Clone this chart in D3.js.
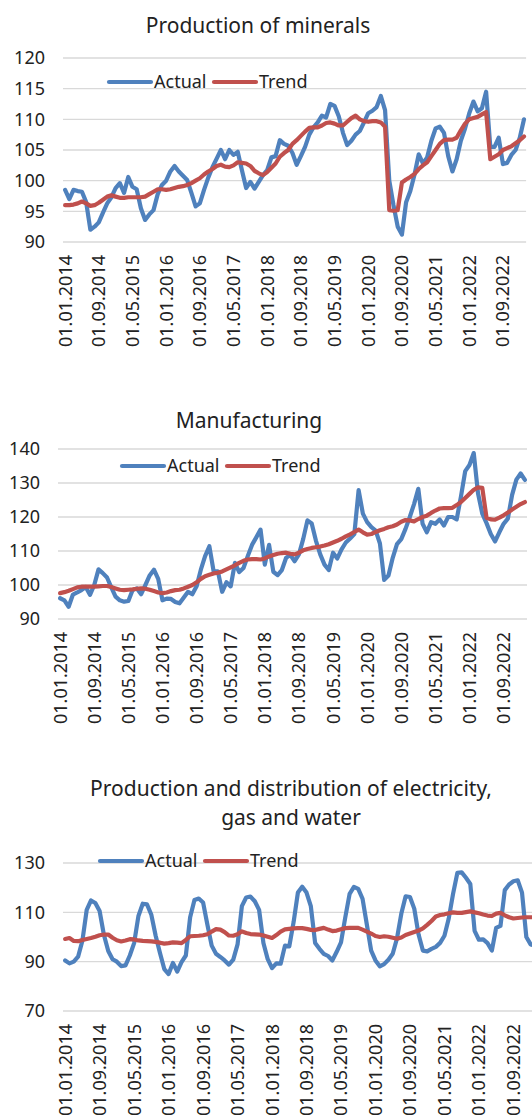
<!DOCTYPE html>
<html>
<head>
  <meta charset="UTF-8">
  <title>Production indices</title>
  <script src="https://cdn.jsdelivr.net/npm/d3@7"></script>
  <style>
    body { margin: 0; background: #fff; }
    svg text { font-family: "Noto Sans", sans-serif; fill: #222; }
  </style>
</head>
<body>
<svg id="chart" width="532" height="1115"></svg>
<script>
// monthly categories, Jan 2014 .. Feb 2023
var months = d3.timeMonth.range(new Date(2014, 0, 1), new Date(2023, 2, 1));
var seriesNames = ["Actual", "Trend"];

// Production of minerals
var minActual = [98.5,97.0,98.5,98.3,98.2,96.5,92.0,92.5,93.2,94.8,
  96.3,97.3,98.8,99.6,98.0,100.6,99.0,98.6,95.5,93.6,
  94.5,95.2,97.8,99.3,100.0,101.5,102.4,101.5,100.8,100.1,
  98.0,95.8,96.3,98.5,100.5,102.2,103.6,105.0,103.5,105.0,
  104.2,104.7,101.7,98.8,99.8,98.7,99.8,100.9,101.7,103.8,
  104.0,106.6,106.0,105.7,104.5,102.6,104.0,105.5,107.5,108.7,
  109.5,110.6,110.3,112.5,112.2,110.5,107.8,105.8,106.5,107.5,
  108.1,109.5,111.0,111.4,112.0,113.8,111.5,100.0,96.0,92.5,
  91.2,96.5,98.3,101.0,104.3,102.8,103.8,106.5,108.5,108.8,
  107.8,104.0,101.5,103.5,106.5,108.5,111.0,112.9,111.3,111.8,
  114.5,105.5,105.5,107.0,102.7,102.9,104.2,105.0,107.0,110.0];
var minTrend = [96.0,96.0,96.1,96.3,96.6,96.3,95.9,96.0,96.4,96.9,
  97.4,97.6,97.4,97.2,97.2,97.3,97.3,97.3,97.3,97.4,
  97.8,98.2,98.6,98.6,98.5,98.6,98.8,99.0,99.1,99.3,
  99.6,100.0,100.4,101.0,101.5,101.9,102.4,102.6,102.3,102.2,
  102.5,103.0,102.9,102.8,102.4,101.6,101.2,100.9,101.4,102.1,
  102.8,103.9,104.5,105.0,106.0,106.6,107.3,108.0,108.6,108.7,
  108.7,109.0,109.4,109.5,109.3,109.0,109.0,109.6,110.2,110.6,
  110.0,109.7,109.6,109.7,109.7,109.5,108.8,95.2,95.1,95.2,
  99.7,100.2,100.6,101.1,101.9,102.5,103.0,104.0,105.0,106.0,
  106.6,106.7,106.7,107.0,108.2,109.3,110.0,110.2,110.4,110.8,
  111.2,103.5,103.9,104.3,105.0,105.3,105.6,106.1,106.6,107.2];

// Manufacturing
var manActual = [96.1,95.5,93.6,97.2,97.8,98.5,99.4,97.1,100.0,104.6,
  103.5,102.2,99.3,96.6,95.5,95.1,95.3,98.5,99.0,97.3,
  100.0,102.8,104.5,101.8,95.5,96.0,95.9,95.0,94.6,96.3,
  98.0,97.3,99.6,104.5,108.5,111.4,104.0,104.0,98.0,100.8,
  99.6,106.5,103.8,105.0,108.5,111.8,114.0,116.3,106.0,111.8,
  103.9,102.9,104.4,108.0,108.8,107.0,109.0,113.5,119.0,118.1,
  113.0,109.0,106.0,104.4,109.5,107.8,110.5,112.5,113.7,115.0,
  127.9,121.0,118.5,117.0,116.0,112.2,101.5,102.8,108.0,112.0,
  113.5,116.5,120.0,123.8,128.3,118.0,115.5,118.5,118.0,119.3,
  117.5,120.0,120.0,119.3,126.0,133.5,135.3,138.8,127.0,121.0,
  118.2,115.0,112.8,115.5,118.0,119.5,126.5,131.0,132.8,130.9];
var manTrend = [97.6,97.9,98.3,98.8,99.3,99.5,99.5,99.5,99.5,99.6,
  99.7,99.7,99.4,99.0,98.6,98.5,98.6,98.7,98.9,99.0,
  98.9,98.6,98.2,97.8,97.6,97.8,98.2,98.5,98.6,99.0,
  99.5,100.0,100.8,101.8,102.6,103.0,103.4,103.6,104.0,104.6,
  105.2,105.8,106.5,107.1,107.5,107.6,107.6,107.5,107.8,108.4,
  108.8,109.2,109.4,109.5,109.2,109.0,109.5,110.2,110.6,110.9,
  111.1,111.3,111.6,112.0,112.5,113.0,113.6,114.3,114.9,115.6,
  116.3,115.5,114.8,115.0,115.6,116.1,116.5,117.0,117.3,117.8,
  118.6,119.1,119.0,118.7,119.4,120.0,120.4,121.2,121.9,122.5,
  122.6,122.6,122.7,123.5,124.4,125.6,126.8,128.0,128.7,128.6,
  119.8,119.3,119.2,119.8,120.5,121.3,122.2,123.0,123.8,124.4];

// Production and distribution of electricity, gas and water
var elecActual = [90.5,89.3,90.0,92.0,98.5,111.0,114.8,113.8,110.5,100.8,
  94.3,91.0,90.0,88.2,88.5,92.5,97.5,108.5,113.5,113.2,
  109.0,100.5,93.5,87.0,85.0,89.5,86.0,89.8,92.5,108.0,
  115.0,115.6,114.0,105.0,96.5,93.2,91.9,90.5,88.8,90.8,
  97.0,112.5,116.0,116.4,114.5,111.0,97.6,91.0,87.4,89.3,
  89.2,96.5,96.2,106.0,118.0,120.4,118.0,112.5,97.6,95.2,
  93.2,92.3,90.5,94.0,97.8,108.0,117.5,120.3,119.5,115.5,
  105.0,94.5,90.5,88.1,89.0,90.8,93.2,99.5,109.5,116.5,
  116.2,111.5,101.0,94.5,94.2,95.2,96.0,97.6,100.5,107.5,
  117.5,126.0,126.2,124.0,121.5,102.5,98.9,99.0,97.5,94.5,
  103.7,104.5,119.0,121.3,122.6,123.0,118.0,100.0,97.0,96.5];
var elecTrend = [99.2,99.6,98.4,98.3,98.8,99.2,99.6,100.1,100.7,101.0,
  101.0,99.7,98.7,98.2,98.6,99.1,99.0,98.6,98.4,98.3,
  98.2,98.0,97.7,97.3,97.5,97.8,97.7,97.5,98.8,100.3,
  100.4,100.5,100.7,101.1,102.2,103.2,103.0,102.0,100.6,100.5,
  101.1,102.3,101.6,101.2,101.1,101.0,100.6,100.1,99.6,100.8,
  102.2,103.1,103.3,103.5,103.6,103.6,103.3,102.9,102.8,103.3,
  103.7,103.0,102.4,102.6,103.1,103.6,103.7,103.7,103.7,103.0,
  102.2,101.4,100.4,100.0,100.3,100.1,99.7,99.3,99.8,100.8,
  101.4,102.0,102.6,103.5,104.9,106.5,108.3,108.9,109.2,109.6,
  110.0,109.8,109.8,110.1,110.4,110.0,109.6,109.1,108.7,108.5,
  109.5,109.8,108.8,108.0,107.5,107.7,107.9,108.0,108.0,108.0];

var colours = ["#4f81bd", "#c0504d"];
var fmt = d3.timeFormat("%d.%m.%Y");

var svg = d3.select("#chart");

// one panel = title, grid, y labels, rotated month labels, two lines, legend
function drawPanel(p, series) {
  var n = months.length;
  var x = d3.scaleBand()
    .domain(d3.range(n))
    .range([p.left, p.left + n * p.band]);
  var y = d3.scaleLinear()
    .domain(p.yDomain)
    .range([p.bottom, p.top]);

  var g = svg.append("g");

  // title (may be two lines)
  g.selectAll(".title")
    .data(p.title)
    .enter().append("text")
    .attr("x", p.titleX)
    .attr("y", function(d, i) { return p.titleY[i]; })
    .attr("text-anchor", "middle")
    .style("font-size", "21px")
    .text(function(d) { return d; });

  var ticks = d3.range(p.yDomain[0], p.yDomain[1] + 0.01, p.yStep);

  // gridlines
  g.selectAll(".grid")
    .data(ticks)
    .enter().append("line")
    .attr("x1", p.left)
    .attr("x2", p.left + n * p.band)
    .attr("y1", function(d) { return y(d); })
    .attr("y2", function(d) { return y(d); })
    .attr("stroke", "#d9d9d9")
    .attr("stroke-width", 1.3);

  // y labels
  g.selectAll(".ylab")
    .data(ticks)
    .enter().append("text")
    .attr("x", p.left - 18)
    .attr("y", function(d) { return y(d); })
    .attr("dy", "0.36em")
    .attr("text-anchor", "end")
    .style("font-size", "18px")
    .text(function(d) { return d; });

  // month labels, every 8th category, rotated
  var labelIdx = d3.range(0, n, 8);
  g.selectAll(".xlab")
    .data(labelIdx)
    .enter().append("text")
    .attr("transform", function(i) {
      return "translate(" + (x(i) + x.bandwidth() / 2) + "," + (p.bottom + 13) + ") rotate(-90)";
    })
    .attr("dy", "0.36em")
    .attr("text-anchor", "end")
    .style("font-size", "18px")
    .text(function(i) { return fmt(months[i]); });

  var line = d3.line()
    .x(function(d, i) { return x(i) + x.bandwidth() / 2; })
    .y(function(d) { return y(d); });

  series.forEach(function(s, k) {
    g.append("path")
      .datum(s)
      .attr("d", line)
      .attr("fill", "none")
      .attr("stroke", colours[k])
      .attr("stroke-width", 4.2)
      .attr("stroke-linejoin", "round")
      .attr("stroke-linecap", "round");
  });

  // legend
  var lg = g.append("g").attr("transform", "translate(" + p.legendX + "," + p.legendY + ")");
  seriesNames.forEach(function(name, k) {
    var off = k * 105;
    lg.append("line")
      .attr("x1", off + 2).attr("x2", off + 44)
      .attr("y1", 0).attr("y2", 0)
      .attr("stroke", colours[k])
      .attr("stroke-width", 4.2)
      .attr("stroke-linecap", "round");
    lg.append("text")
      .attr("x", off + 47)
      .attr("y", 0)
      .attr("dy", "0.36em")
      .style("font-size", "18px")
      .text(name);
  });
}

drawPanel({
  title: ["Production of minerals"], titleX: 258, titleY: [33],
  left: 63, band: 4.21, yDomain: [90, 120], yStep: 5, top: 58, bottom: 242,
  legendX: 107, legendY: 82
}, [minActual, minTrend]);

drawPanel({
  title: ["Manufacturing"], titleX: 249, titleY: [428],
  left: 58, band: 4.264, yDomain: [90, 140], yStep: 10, top: 449, bottom: 619,
  legendX: 120, legendY: 466
}, [manActual, manTrend]);

drawPanel({
  title: ["Production and distribution of electricity,", "gas and water"], titleX: 291, titleY: [796, 825],
  left: 63, band: 4.31, yDomain: [70, 130], yStep: 20, top: 863, bottom: 1011,
  legendX: 98, legendY: 861
}, [elecActual, elecTrend]);
</script>
</body>
</html>
